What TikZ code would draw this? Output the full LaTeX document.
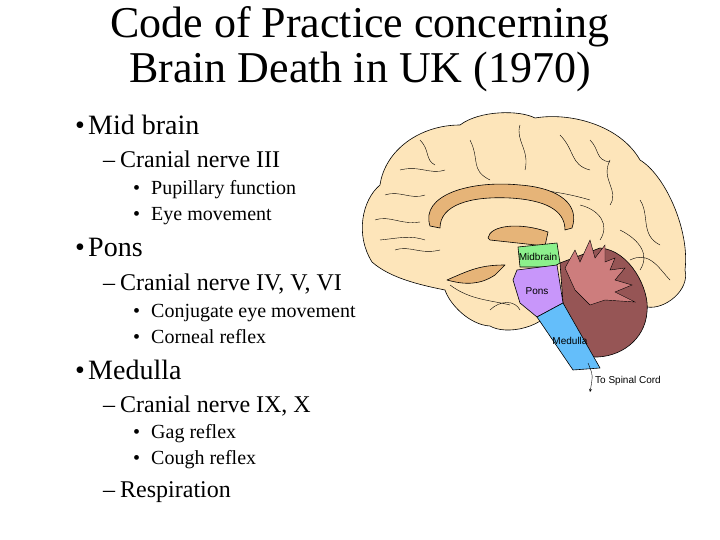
\documentclass[tikz,border=0pt]{standalone}
\usepackage{fontspec}
\setmainfont{Liberation Serif}
\newfontfamily\sans{Liberation Sans}
\begin{document}
\begin{tikzpicture}[x=1pt,y=-1pt,
 title/.style={font=\fontsize{44}{44}\selectfont,anchor=base},
 lone/.style={font=\fontsize{28}{28}\selectfont,anchor=base west,inner sep=0},
 ltwo/.style={font=\fontsize{24}{24}\selectfont,anchor=base west,inner sep=0},
 lthree/.style={font=\fontsize{20}{20}\selectfont,anchor=base west,inner sep=0},
 blab/.style={font=\sans\fontsize{10}{10}\selectfont,inner sep=0},
 outl/.style={draw=black,line width=0.6pt,line join=round}]
\useasboundingbox (0,0) rectangle (720,540);
\node[title] (t1) at (360,38) {Code of Practice concerning};
\node[title] (t2) at (360,83) {Brain Death in UK (1970)};
% text
\node[lone] (b1) at (75,135) {•};\node[lone] (a1) at (88,135) {Mid brain};
\node[ltwo] (d1) at (103,168) {–};\node[ltwo] (a2) at (120,168) {Cranial nerve III};
\node[lthree] (e1) at (133,195) {•};\node[lthree] (a3) at (151,195) {Pupillary function};
\node[lthree] (e2) at (133,221) {•};\node[lthree] (a4) at (151,221) {Eye movement};
\node[lone] (b2) at (75,256) {•};\node[lone] (a5) at (88,256) {Pons};
\node[ltwo] (d2) at (103,290) {–};\node[ltwo] (a6) at (120,290) {Cranial nerve IV, V, VI};
\node[lthree] (e3) at (133,317) {•};\node[lthree] (a7) at (151,317) {Conjugate eye movement};
\node[lthree] (e4) at (133,343) {•};\node[lthree] (a8) at (151,343) {Corneal reflex};
\node[lone] (b3) at (75,379) {•};\node[lone] (a9) at (88,379) {Medulla};
\node[ltwo] (d3) at (103,412) {–};\node[ltwo] (a10) at (120,412) {Cranial nerve IX, X};
\node[lthree] (e5) at (133,438) {•};\node[lthree] (a11) at (151,438) {Gag reflex};
\node[lthree] (e6) at (133,464) {•};\node[lthree] (a12) at (151,464) {Cough reflex};
\node[ltwo] (d4) at (103,497) {–};\node[ltwo] (a13) at (120,497) {Respiration};
% brain
\definecolor{cream}{RGB}{253,229,186}
\definecolor{tan}{RGB}{230,180,120}
\definecolor{mid}{RGB}{140,240,140}
\definecolor{pons}{RGB}{200,150,250}
\definecolor{med}{RGB}{100,190,250}
\definecolor{cbl}{RGB}{150,85,85}
\definecolor{arb}{RGB}{205,125,125}
\draw[outl,fill=cream] (372,262) .. controls (355,235) and (362,200) .. (380,185)
 .. controls (385,150) and (420,125) .. (460,125) .. controls (480,110) and (520,110) .. (535,118)
 .. controls (570,112) and (620,125) .. (640,160) .. controls (665,175) and (690,230) .. (685,270)
 .. controls (690,290) and (665,310) .. (647,307) -- (600,310) -- (560,300)
 .. controls (545,330) and (505,335) .. (490,326) .. controls (470,325) and (450,305) .. (445,290)
 .. controls (420,285) and (390,278) .. (372,262) -- cycle;
% gyri lines
\draw[line width=0.4pt] (400,170) .. controls (420,165) and (430,175) .. (445,170)
 (470,140) .. controls (480,160) and (470,170) .. (490,180)
 (520,125) .. controls (515,140) and (530,150) .. (525,170)
 (560,135) .. controls (575,150) and (570,165) .. (590,170)
 (610,160) .. controls (600,180) and (620,190) .. (610,205)
 (640,200) .. controls (650,215) and (640,235) .. (660,245)
 (375,220) .. controls (390,215) and (400,225) .. (420,222)
 (395,250) .. controls (410,245) and (420,255) .. (440,250)
 (450,200) .. controls (480,185) and (540,185) .. (590,200)
 (630,260) .. controls (650,250) and (660,270) .. (670,280)
 (450,285) .. controls (470,300) and (490,300) .. (510,305)
 (420,140) .. controls (430,150) and (425,160) .. (435,165)
 (385,195) .. controls (400,190) and (410,200) .. (425,195)
 (580,205) .. controls (600,210) and (610,225) .. (600,240)
 (620,230) .. controls (640,240) and (650,255) .. (640,270)
 (590,140) .. controls (600,150) and (595,160) .. (610,162)
 (380,240) .. controls (400,238) and (410,235) .. (425,240)
 (490,310) .. controls (500,300) and (515,300) .. (520,310);
% corpus callosum
\draw[outl,fill=tan] (430,226) .. controls (420,195) and (470,180) .. (520,185)
 .. controls (560,188) and (580,205) .. (572,228) -- (565,230)
 .. controls (565,210) and (545,200) .. (510,198) .. controls (470,196) and (440,205) .. (440,228) -- cycle;
\draw[outl,fill=tan] (488,238) .. controls (490,225) and (520,222) .. (548,232) -- (545,246) -- (490,240) -- cycle;
\draw[outl,fill=tan] (447,280) .. controls (470,270) and (480,265) .. (505,265) -- (495,275) .. controls (480,285) and (465,285) .. (447,280) -- cycle;
% cerebellum
\draw[outl,fill=cbl] (560,263) -- (600,248) .. controls (630,250) and (650,290) .. (647,312)
 .. controls (645,340) and (620,358) .. (593,357) -- (580,345) -- (563,303) -- cycle;
\draw[line width=0.4pt,fill=arb] (565,268) -- (575,250) -- (580,262) -- (590,240) -- (595,258) -- (605,245) -- (605,262)
 -- (615,258) -- (610,270) -- (625,268) -- (615,280) -- (632,285) -- (615,292) -- (635,302) -- (605,300) -- (590,305) -- (575,290) -- cycle;
% brainstem
\draw[outl,fill=mid] (518,247) -- (557,243) -- (560,263) -- (553,267) -- (520,267) -- cycle;
\draw[outl,fill=pons] (517,270) -- (557,265) -- (563,303) -- (537,317) -- (520,303) -- (513,280) -- cycle;
\draw[outl,fill=med] (537,317) -- (563,303) -- (600,368) -- (573,370) -- cycle;
\node[blab] (lm) at (538,257) {Midbrain};
\node[blab] (lp) at (537,291) {Pons};
\node[blab] (lmed) at (570,341) {Medulla};
\coordinate (s0) at (588,363);
\coordinate (s1) at (590,392);
\draw[line width=0.4pt,-stealth] (s0) .. controls (593,375) .. (s1);
\node[blab,anchor=west] (ls) at (595,381) {To Spinal Cord};
\end{tikzpicture}
\end{document}
